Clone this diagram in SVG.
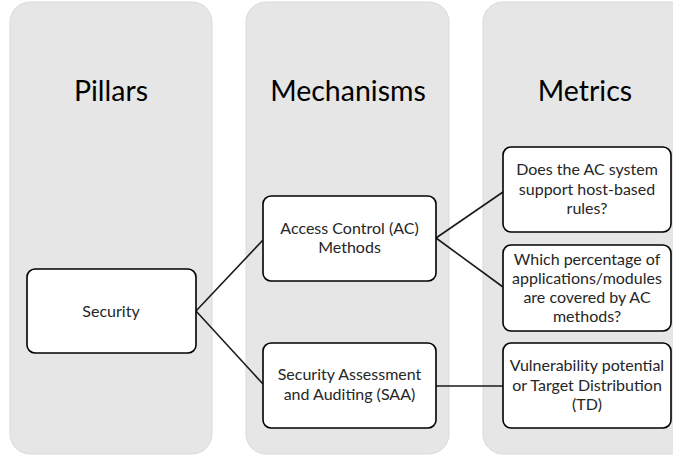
<svg xmlns="http://www.w3.org/2000/svg" width="673" height="457" viewBox="0 0 673 457">
<style>
.col{fill:#e6e6e6;stroke:#dadada;stroke-width:1}
.box{fill:#fff;stroke:#000;stroke-width:1.6}
.title{font-family:Lato,"Liberation Sans",sans-serif;font-size:28.5px;fill:#000;text-anchor:middle}
.t{font-family:Lato,"Liberation Sans",sans-serif;font-size:16px;fill:#262626;text-anchor:middle}
.c{stroke:#1a1a1a;stroke-width:1.6;fill:none}
</style>
<rect width="673" height="457" fill="#fff"/>
<g id="col-pillars"><rect class="col" x="10" y="2" width="202" height="452" rx="20"/><text class="title" x="111" y="101">Pillars</text></g>
<g id="col-mechanisms"><rect class="col" x="246" y="2" width="203" height="452" rx="20"/><text class="title" x="348" y="101">Mechanisms</text></g>
<g id="col-metrics"><rect class="col" x="483" y="2" width="210" height="452" rx="20"/><text class="title" x="585" y="101">Metrics</text></g>
<g id="connectors">
<path class="c" d="M196 311 L263 240"/>
<path class="c" d="M196 311 L263 384"/>
<path class="c" d="M436 238 L503 192"/>
<path class="c" d="M436 238 L503 287"/>
<path class="c" d="M436 386 L503 386"/>
</g>
<g id="n-security"><rect class="box" x="27" y="269" width="169" height="84" rx="8"/><text class="t" x="111" y="316.5">Security</text></g>
<g id="n-ac"><rect class="box" x="263" y="196" width="173" height="85" rx="8"/><text class="t" x="349.5" y="233.5">Access Control (AC)</text><text class="t" x="349.5" y="253">Methods</text></g>
<g id="n-saa"><rect class="box" x="263" y="343" width="173" height="85" rx="8"/><text class="t" x="349.5" y="380">Security Assessment</text><text class="t" x="349.5" y="399.5">and Auditing (SAA)</text></g>
<g id="n-m1"><rect class="box" x="503" y="147" width="168" height="85" rx="8"/><text class="t" x="587" y="175">Does the AC system</text><text class="t" x="587" y="194.5">support host-based</text><text class="t" x="587" y="214">rules?</text></g>
<g id="n-m2"><rect class="box" x="503" y="245" width="168" height="86" rx="8"/><text class="t" x="587" y="265">Which percentage of</text><text class="t" x="587" y="284">applications/modules</text><text class="t" x="587" y="303">are covered by AC</text><text class="t" x="587" y="322">methods?</text></g>
<g id="n-m3"><rect class="box" x="503" y="343" width="168" height="85" rx="8"/><text class="t" x="587" y="371">Vulnerability potential</text><text class="t" x="587" y="390.5">or Target Distribution</text><text class="t" x="587" y="410">(TD)</text></g>
</svg>
